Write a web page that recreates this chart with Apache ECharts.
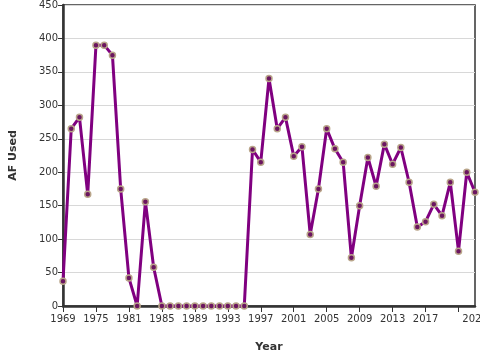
<!DOCTYPE html>
<html>
<head>
<meta charset="utf-8">
<script src="https://cdn.jsdelivr.net/npm/echarts@6/dist/echarts.min.js"></script>
<style>
  html, body { margin: 0; padding: 0; background: #fff; }
  #main { width: 480px; height: 360px; }
</style>
</head>
<body>
<div id="main"></div>
<script>
// years on the category axis (early years are not consecutive)
const years = [
  1969, 1970, 1972, 1974, 1975, 1976, 1978, 1980, 1981, 1982, 1983, 1984,
  1985, 1986, 1987, 1988, 1989, 1990, 1991, 1992, 1993, 1994, 1995,
  1996, 1997, 1998, 1999, 2000, 2001, 2002, 2003, 2004, 2005, 2006, 2007,
  2008, 2009, 2010, 2011, 2012, 2013, 2014, 2015, 2016, 2017, 2018, 2019,
  2020, 2021, 2022, 2023
]
const afUsed = [
  37, 265, 282, 167, 390, 390, 375, 175, 42, 0, 156, 58,
  0, 0, 0, 0, 0, 0, 0, 0, 0, 0, 0,
  234, 215, 340, 265, 282, 224, 238, 107, 175, 265, 235, 215,
  72, 150, 222, 179, 242, 212, 237, 185, 118, 126, 152, 135,
  185, 82, 200, 170
]

const font = 'DejaVu Sans'
const chart = echarts.init(document.getElementById('main'))
chart.setOption({
  animation: false,
  grid: {
    left: 63,
    right: 5,
    top: 5,
    bottom: 54,
    outerBoundsMode: 'none',
    containLabel: false,
    show: true,
    borderColor: '#333',
    borderWidth: 1.5
  },
  xAxis: {
    type: 'category',
    data: years,
    boundaryGap: false,
    name: 'Year',
    nameLocation: 'middle',
    nameGap: 36,
    nameTextStyle: { fontFamily: font, fontSize: 11, fontWeight: 'bold', color: '#333' },
    axisLine: { lineStyle: { color: '#333', width: 2.5 } },
    axisTick: {
      interval: (i) => i % 4 === 0,
      length: 6,
      lineStyle: { color: '#333', width: 1 }
    },
    axisLabel: {
      interval: (i) => (i % 4 === 0 && i !== 48) || i === 50,
      fontFamily: font,
      fontSize: 10,
      color: '#333',
      margin: 8
    },
    splitLine: { show: false }
  },
  yAxis: {
    type: 'value',
    min: 0,
    max: 450,
    interval: 50,
    name: 'AF Used',
    nameLocation: 'middle',
    nameGap: 44,
    nameTextStyle: { fontFamily: font, fontSize: 11, fontWeight: 'bold', color: '#333' },
    axisLine: { show: true, lineStyle: { color: '#333', width: 2.5 } },
    axisTick: { show: true, length: 5, lineStyle: { color: '#333' } },
    axisLabel: { fontFamily: font, fontSize: 10, color: '#333', margin: 5 },
    splitLine: { lineStyle: { color: '#d8d8d8', width: 1 } }
  },
  series: [
    {
      type: 'line',
      data: afUsed,
      clip: false,
      showAllSymbol: true,
      lineStyle: { color: '#800080', width: 3 },
      symbol: 'circle',
      symbolSize: 6,
      itemStyle: { color: '#6b1560', borderColor: '#b9a58a', borderWidth: 1.5 }
    }
  ]
})
</script>
</body>
</html>
